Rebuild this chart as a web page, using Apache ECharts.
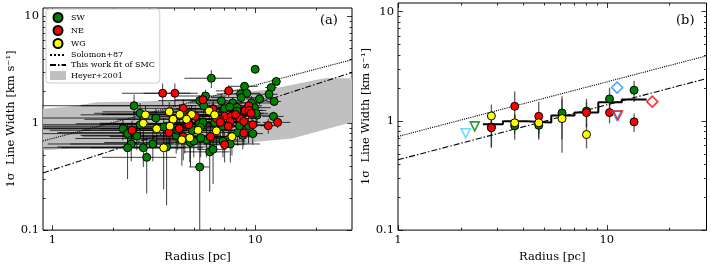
<!DOCTYPE html>
<html><head><meta charset="utf-8">
<script src="https://cdn.jsdelivr.net/npm/echarts@6/dist/echarts.min.js"></script>
<style>html,body{margin:0;padding:0;background:#fff}#c{width:711px;height:268px}</style>
</head><body><div id="c"></div>
<script>
const FONT = 'DejaVu Serif';
// ---------- Panel (a) data ----------
const swR = [10.0,6.08,12.7,12.0,8.86,11.7,8.47,9.09,8.53,10.5,5.69,5.33,6.81,7.74,9.59,2.53,5.58,7.07,8.13,9.92,2.71,3.24,10.2,12.3,9.27,2.23,2.35,2.61,2.71,3.54,4.08,5.31,9.73,8.19,7.54,5.75,2.45,2.35,2.81,3.13,4.80,3.66,2.92,5.97,6.20,5.33,6.20,7.48,8.13,12.4,10.1,8.63,6.94,6.31,6.63,5.53,5.37,4.91,4.73,4.50,4.50,4.98,5.39,8.69,6.94,8.38,4.15];
const swV = [3.20,2.64,2.46,2.16,2.22,1.87,1.88,1.91,1.74,1.69,1.80,1.63,1.62,1.55,1.55,1.46,1.46,1.37,1.41,1.40,1.24,1.12,1.19,1.16,0.95,0.89,0.80,0.76,0.97,0.92,0.77,0.99,0.80,0.82,0.64,0.70,0.64,0.59,0.59,0.64,0.66,0.60,0.48,0.54,0.57,0.39,1.37,1.42,1.30,1.60,1.24,1.02,0.94,1.02,1.17,1.02,0.92,0.86,0.99,1.26,0.72,0.68,0.73,0.77,0.68,0.95,0.86];
const swRerr = [0.4,1.6,0.6,0.8,1.5,1.2,2.0,1.5,2.5,1.5,1.5,2.0,2.0,3.0,2.5,2.6,4.2,3.0,2.5,2.0,1.1,2.5,2.5,1.5,3.0,2.0,1.5,1.2,2.5,3.0,2.7,4.0,1.2,2.0,3.0,2.5,1.5,2.0,1.7,1.9,3.0,2.6,1.16,1.5,1.0,0.6,2.0,2.0,1.5,1.0,1.5,2.0,3.0,2.5,2.5,2.0,3.0,3.5,3.0,2.0,3.2,2.0,1.5,1.5,2.0,2.0,2.0];
const swVerr = [0.12,0.5,0.12,0.12,0.2,0.15,0.2,0.2,0.25,0.2,0.25,0.2,0.25,0.2,0.25,0.4,0.25,0.25,0.2,0.2,0.3,0.25,0.2,0.12,0.3,0.2,0.2,0.2,0.2,0.2,0.25,0.2,0.17,0.2,0.21,0.22,0.2,0.29,0.2,0.2,0.27,0.43,0.26,0.31,0.3,0.4,0.2,0.2,0.2,0.15,0.2,0.25,0.25,0.2,0.25,0.2,0.2,0.2,0.2,0.25,0.2,0.2,0.25,0.2,0.2,0.25,0.3];

const neR = [3.50,4.02,7.40,4.42,6.20,2.47,3.76,4.42,5.06,7.07,6.68,7.63,8.38,8.93,9.30,9.35,7.54,8.79,4.71,6.02,7.07,8.79,11.6,12.9,7.37,5.53,9.55,4.73,6.44,6.73,8.00,9.73,4.22];
const neV = [1.91,1.91,2.01,1.38,1.35,0.86,0.82,0.75,1.16,1.17,1.09,1.17,1.11,1.32,1.46,1.32,1.04,1.04,0.97,0.75,0.63,0.81,0.95,1.02,0.94,1.66,1.24,1.17,1.11,1.02,1.21,0.97,0.89];
const neRerr = [1.3,1.2,1.0,2.0,2.5,1.5,2.7,2.5,2.0,2.5,2.0,2.0,2.0,2.0,1.5,2.0,2.5,1.5,3.0,2.0,1.5,1.5,1.0,2.0,2.0,1.5,1.5,2.0,2.5,2.0,2.0,1.5,2.5];
const neVerr = [0.45,0.45,0.25,0.3,0.25,0.2,0.25,0.3,0.25,0.2,0.25,0.2,0.2,0.2,0.2,0.2,0.25,0.2,0.25,0.25,0.2,0.19,0.15,0.12,0.25,0.3,0.2,0.25,0.2,0.25,0.2,0.2,0.25];

const wgR = [2.88,3.77,3.94,4.25,4.86,5.93,6.31,2.81,3.27,3.80,4.59,5.23,4.76,4.35,3.54,7.68,6.44];
const wgV = [1.20,1.28,1.09,1.21,1.21,1.30,1.20,1.00,0.89,0.94,1.09,0.86,0.73,0.70,0.59,0.75,0.85];
const wgRerr = [1.5,2.0,2.5,2.5,3.0,2.5,2.0,1.1,2.5,3.0,2.5,3.0,2.5,2.0,2.0,2.0,2.5];
const wgVerr = [0.25,0.3,0.25,0.3,0.25,0.25,0.2,0.25,0.25,0.3,0.25,0.3,0.3,0.3,0.35,0.25,0.25];

const heyerUpR = [0.9,1.25,1.66,2.71,5.14,8.38,12.2,17.8,21.9,30];
const heyerUpV = [1.37,1.44,1.57,1.60,1.68,1.92,2.11,2.43,2.64,2.64];
const heyerLoR = [0.9,1.25,2.16,5.33,9.03,10.1,15.2,21.4,30];
const heyerLoV = [0.56,0.58,0.59,0.62,0.63,0.67,0.72,0.86,1.02];

const solomonAR = [0.9,30], solomonAV = [0.683,3.94];
const fitAR = [0.9,30], fitAV = [0.343,2.99];

// ---------- Panel (b) data ----------
const binR = [2.80,3.62,4.72,6.10,7.99,10.3,13.5];
const bSW = [0.88,0.90,0.91,1.18,1.23,1.59,1.91];
const bSWerr = [0.3,0.23,0.24,0.5,0.36,0.42,0.42];
const bNE = [0.865,1.36,1.10,null,1.19,1.19,0.98];
const bNEerr = [0.3,0.5,0.4,null,0.3,0.24,0.19];
const bWG = [1.11,0.96,0.96,1.05,0.75,null,null];
const bWGerr = [0.3,0.2,0.2,0.54,0.19,null,null];
const stepR = [2.55,3.18,4.12,5.42,7.0,9.1,11.8,15.5];
const stepV = [0.93,0.99,0.965,1.12,1.19,1.48,1.57];
const solomonBR = [1,30], solomonBV = [0.72,3.94];
const fitBR = [1,30], fitBV = [0.44,2.44];
const triCyan = [[2.11,0.77]], triGreen = [[2.33,0.89]], triBlue = [[11.15,1.12]], triRed = [[11.3,1.12]];
const diaBlue = [[11.2,2.02]], diaRed = [[16.5,1.50]];

// ---------- tick labels ----------
const xMajor = [1,10], xMinor = [2,3,4,5,6,7,8,9,20];
const yMajor = [0.1,1,10], yMinor = [0.2,0.3,0.4,0.5,0.6,0.7,0.8,0.9,2,3,4,5,6,7,8,9];

const XA = [0.9,30], XB = [1,30], YR = [0.1,12];

function fmt(v){ return v < 0.999 ? (Math.round(v*10)/10).toFixed(1) : String(Math.round(v)); }

function axis(grid, ext, position, ticks, len, labels, name, nameGap, isY){
  const a = {type:'log', logBase:10, gridIndex:grid, min:ext[0], max:ext[1], position:position,
    axisLine:{show:false}, splitLine:{show:false},
    axisTick:{show:true, inside:true, length:len, customValues:ticks, lineStyle:{color:'#000', width:0.8}},
    axisLabel:{show:false}};
  if (labels){
    a.axisLabel = {show:true, customValues:labels, formatter:fmt, margin:4,
      fontFamily:FONT, fontSize:11.5, color:'#000'};
  }
  if (name){
    a.name = name; a.nameLocation = 'middle'; a.nameGap = nameGap;
    a.nameTextStyle = {fontFamily:FONT, fontSize:11.5, color:'#000'};
  }
  return a;
}
const yName = '1σ  Line Width [km s⁻¹]';
const xAxes = [
  axis(0, XA, 'bottom', xMajor, 5, xMajor, 'Radius [pc]', 16),
  axis(0, XA, 'bottom', xMinor, 2.5),
  axis(0, XA, 'top', xMajor, 5),
  axis(0, XA, 'top', xMinor, 2.5),
  axis(1, XB, 'bottom', xMajor, 5, xMajor, 'Radius [pc]', 16),
  axis(1, XB, 'bottom', xMinor, 2.5),
  axis(1, XB, 'top', xMajor, 5),
  axis(1, XB, 'top', xMinor, 2.5)
];
const yAxes = [
  axis(0, YR, 'left', yMajor, 5, yMajor, yName, 26, true),
  axis(0, YR, 'left', yMinor, 2.5),
  axis(0, YR, 'right', yMajor, 5),
  axis(0, YR, 'right', yMinor, 2.5),
  axis(1, YR, 'left', yMajor, 5, yMajor, yName, 21, true),
  axis(1, YR, 'left', yMinor, 2.5),
  axis(1, YR, 'right', yMajor, 5),
  axis(1, YR, 'right', yMinor, 2.5)
];

function errSeries(name, R, V, eR, eV, xi, yi, xr, color, width){
  const data = [];
  R.forEach((r,i)=>{ if (V[i] != null) data.push([r, V[i], eR[i], eV[i]]); });
  return {type:'custom', name:name, xAxisIndex:xi, yAxisIndex:yi, z:2, silent:true,
    encode:{x:0,y:1}, data:data,
    renderItem:function(params, api){
      const r=api.value(0), v=api.value(1), er=api.value(2), ev=api.value(3);
      const style = {stroke:color, lineWidth:width};
      const ch = [];
      if (er > 0){
        const a = api.coord([Math.max(r-er, xr[0]), v]);
        const b = api.coord([Math.min(r+er, xr[1]), v]);
        ch.push({type:'line', shape:{x1:a[0],y1:a[1],x2:b[0],y2:b[1]}, style:style});
      }
      if (ev > 0){
        const a = api.coord([r, Math.max(v-ev, YR[0])]);
        const b = api.coord([r, Math.min(v+ev, YR[1])]);
        ch.push({type:'line', shape:{x1:a[0],y1:a[1],x2:b[0],y2:b[1]}, style:style});
      }
      return {type:'group', children:ch};
    }};
}
function pts(R, V){ const d=[]; R.forEach((r,i)=>{ if (V[i]!=null) d.push([r,V[i]]); }); return d; }
function scat(name, R, V, color, xi, yi, z){
  return {type:'scatter', name:name, xAxisIndex:xi, yAxisIndex:yi, z:z, symbol:'circle', symbolSize:8,
    itemStyle:{color:color, borderColor:'#000', borderWidth:1, opacity:1}, data:pts(R,V)};
}
function line(name, R, V, type, xi, yi){
  return {type:'line', name:name, xAxisIndex:xi, yAxisIndex:yi, z:3, symbol:'none', silent:true,
    itemStyle:{color:'#000'},
    lineStyle:{color:'#000', width:1.1, type:type}, data:pts(R,V)};
}
function open(name, data, symbol, color, size, rot){
  return {type:'scatter', name:name, xAxisIndex:4, yAxisIndex:4, z:6, symbol:symbol, symbolSize:size,
    symbolRotate:rot||0, itemStyle:{color:'rgba(255,255,255,0)', borderColor:color, borderWidth:1.6}, data:data};
}
const GREEN='#008000', RED='#ff0000', YEL='#ffff00';
const ERRC = 'rgba(0,0,0,0.75)';
const series = [
  {type:'custom', name:'Heyer+2001', xAxisIndex:0, yAxisIndex:0, z:1, silent:true,
   itemStyle:{color:'#c0c0c0'}, encode:{x:0,y:1}, data:pts(heyerUpR, heyerUpV),
   renderItem:function(params, api){
     if (params.dataIndex !== 0) return null;
     const p = [];
     heyerUpR.forEach((r,i)=>p.push(api.coord([r, heyerUpV[i]])));
     for (let i=heyerLoR.length-1;i>=0;i--) p.push(api.coord([heyerLoR[i], heyerLoV[i]]));
     return {type:'polygon', shape:{points:p}, style:{fill:'#c0c0c0'}};
   }},
  errSeries('SW err', swR, swV, swRerr, swVerr, 0, 0, XA, ERRC, 1),
  errSeries('NE err', neR, neV, neRerr, neVerr, 0, 0, XA, ERRC, 1),
  errSeries('WG err', wgR, wgV, wgRerr, wgVerr, 0, 0, XA, ERRC, 1),
  line('Solomon+87', solomonAR, solomonAV, 'dotted', 0, 0),
  line('This work fit of SMC', fitAR, fitAV, [6,2,1.5,2], 0, 0),
  scat('SW', swR, swV, GREEN, 0, 0, 4),
  scat('NE', neR, neV, RED, 0, 0, 4),
  scat('WG', wgR, wgV, YEL, 0, 0, 4),
  // panel b
  errSeries('bSW err', binR, bSW, [0,0,0,0,0,0,0], bSWerr, 4, 4, XB, 'rgba(40,40,40,0.75)', 1.3),
  errSeries('bNE err', binR, bNE, [0,0,0,0,0,0,0], bNEerr, 4, 4, XB, 'rgba(40,40,40,0.75)', 1.3),
  errSeries('bWG err', binR, bWG, [0,0,0,0,0,0,0], bWGerr, 4, 4, XB, 'rgba(40,40,40,0.75)', 1.3),
  line('bSolomon', solomonBR, solomonBV, 'dotted', 4, 4),
  line('bFit', fitBR, fitBV, [6,2,1.5,2], 4, 4),
  {type:'line', name:'bStep', xAxisIndex:4, yAxisIndex:4, z:3, symbol:'none', step:'end', silent:true,
   lineStyle:{color:'#000', width:2}, data:stepR.map((r,i)=>[r, stepV[Math.min(i, stepV.length-1)]])},
  scat('bSW', binR, bSW, GREEN, 4, 4, 4),
  scat('bNE', binR, bNE, RED, 4, 4, 4),
  scat('bWG', binR, bWG, YEL, 4, 4, 4),
  open('cyanTri', triCyan, 'triangle', '#48d1ff', 9, 180),
  open('greenTri', triGreen, 'triangle', GREEN, 9, 180),
  open('blueTri', triBlue, 'triangle', '#1e8fff', 9, 180),
  open('redTri', triRed, 'triangle', RED, 9, 180),
  open('blueDia', diaBlue, 'diamond', '#1e8fff', 11),
  open('redDia', diaRed, 'diamond', RED, 11)
];
const noSym = {color:'rgba(0,0,0,0)', borderColor:'rgba(0,0,0,0)', borderWidth:0, opacity:0};

const chart = echarts.init(document.getElementById('c'), null, {renderer:'canvas', width:711, height:268});
chart.setOption({
  animation:false,
  backgroundColor:'#fff',
  grid:[
    {left:43, top:8, width:309, height:227, show:true, borderColor:'#000', borderWidth:1, backgroundColor:'transparent'},
    {left:398, top:3, width:308.5, height:230.5, show:true, borderColor:'#000', borderWidth:1, backgroundColor:'transparent'}
  ],
  title:[
    {text:'(a)', left:320, top:14, padding:0, textStyle:{fontFamily:FONT, fontSize:13, fontWeight:'normal', color:'#000'}},
    {text:'(b)', left:676, top:14, padding:0, textStyle:{fontFamily:FONT, fontSize:13, fontWeight:'normal', color:'#000'}}
  ],
  legend:{orient:'vertical', left:46, top:9, itemWidth:16, itemHeight:9, itemGap:2,
    padding:[3,5,3,3], borderColor:'#ccc', borderWidth:1, borderRadius:3, backgroundColor:'#fff',
    selectedMode:false, textStyle:{fontFamily:FONT, fontSize:8, color:'#000'},
    data:['SW','NE','WG',
      {name:'Solomon+87', itemStyle:noSym},
      {name:'This work fit of SMC', itemStyle:noSym},
      {name:'Heyer+2001', icon:'rect'}]},
  xAxis:xAxes, yAxis:yAxes, series:series
});
</script></body></html>
